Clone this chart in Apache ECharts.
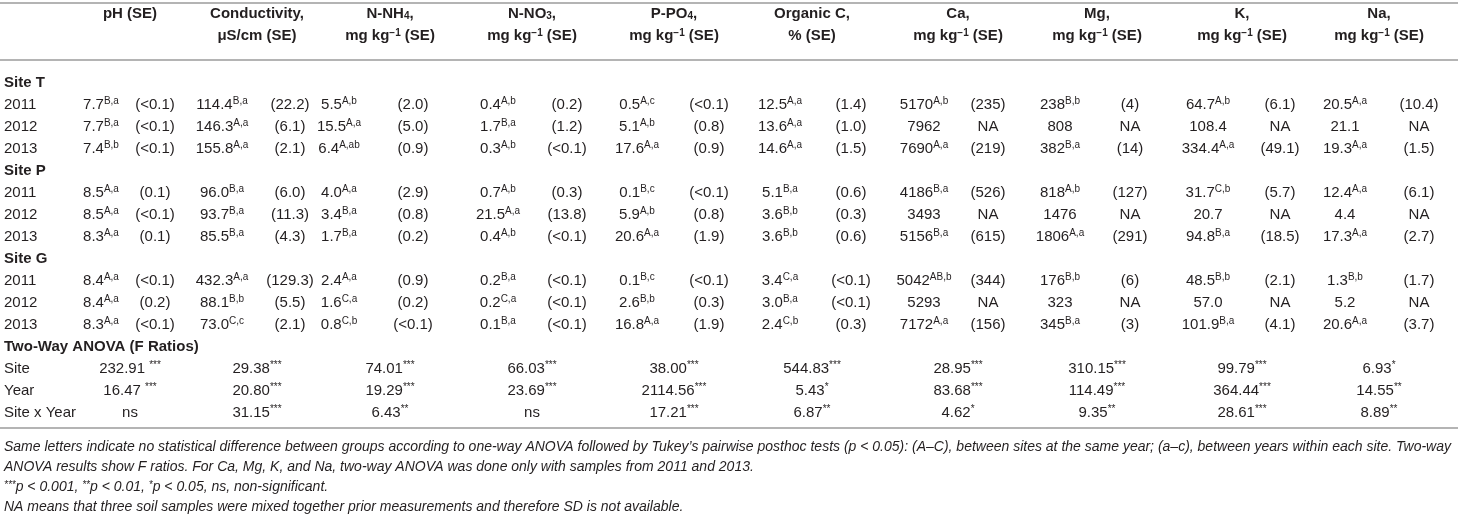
<!DOCTYPE html>
<html>
<head>
<meta charset="utf-8">
<script src="https://cdn.jsdelivr.net/npm/echarts@6/dist/echarts.min.js"></script>
<style>
html, body { margin: 0; padding: 0; background: #fff; }
#table { width: 1458px; height: 516px; }
</style>
</head>
<body>
<div id="table"></div>
<script>
// ---- data ----
var variables = ['pH', 'Conductivity', 'N-NH4', 'N-NO3', 'P-PO4', 'Organic C', 'Ca', 'Mg', 'K', 'Na'];
var rowLabels = ['Site T', '2011', '2012', '2013', 'Site P', '2011', '2012', '2013',
    'Site G', '2011', '2012', '2013', 'Two-Way ANOVA (F Ratios)', 'Site', 'Year', 'Site x Year'];
var boldRows = [0, 4, 8, 12];

var siteTValues = [
    ['7.7', '114.4', '5.5', '0.4', '0.5', '12.5', '5170', '238', '64.7', '20.5'],
    ['7.7', '146.3', '15.5', '1.7', '5.1', '13.6', '7962', '808', '108.4', '21.1'],
    ['7.4', '155.8', '6.4', '0.3', '17.6', '14.6', '7690', '382', '334.4', '19.3']
];
var siteTLetters = [
    ['B,a', 'B,a', 'A,b', 'A,b', 'A,c', 'A,a', 'A,b', 'B,b', 'A,b', 'A,a'],
    ['B,a', 'A,a', 'A,a', 'B,a', 'A,b', 'A,a', '', '', '', ''],
    ['B,b', 'A,a', 'A,ab', 'A,b', 'A,a', 'A,a', 'A,a', 'B,a', 'A,a', 'A,a']
];
var siteTSE = [
    ['<0.1', '22.2', '2.0', '0.2', '<0.1', '1.4', '235', '4', '6.1', '10.4'],
    ['<0.1', '6.1', '5.0', '1.2', '0.8', '1.0', 'NA', 'NA', 'NA', 'NA'],
    ['<0.1', '2.1', '0.9', '<0.1', '0.9', '1.5', '219', '14', '49.1', '1.5']
];

var sitePValues = [
    ['8.5', '96.0', '4.0', '0.7', '0.1', '5.1', '4186', '818', '31.7', '12.4'],
    ['8.5', '93.7', '3.4', '21.5', '5.9', '3.6', '3493', '1476', '20.7', '4.4'],
    ['8.3', '85.5', '1.7', '0.4', '20.6', '3.6', '5156', '1806', '94.8', '17.3']
];
var sitePLetters = [
    ['A,a', 'B,a', 'A,a', 'A,b', 'B,c', 'B,a', 'B,a', 'A,b', 'C,b', 'A,a'],
    ['A,a', 'B,a', 'B,a', 'A,a', 'A,b', 'B,b', '', '', '', ''],
    ['A,a', 'B,a', 'B,a', 'A,b', 'A,a', 'B,b', 'B,a', 'A,a', 'B,a', 'A,a']
];
var sitePSE = [
    ['0.1', '6.0', '2.9', '0.3', '<0.1', '0.6', '526', '127', '5.7', '6.1'],
    ['<0.1', '11.3', '0.8', '13.8', '0.8', '0.3', 'NA', 'NA', 'NA', 'NA'],
    ['0.1', '4.3', '0.2', '<0.1', '1.9', '0.6', '615', '291', '18.5', '2.7']
];

var siteGValues = [
    ['8.4', '432.3', '2.4', '0.2', '0.1', '3.4', '5042', '176', '48.5', '1.3'],
    ['8.4', '88.1', '1.6', '0.2', '2.6', '3.0', '5293', '323', '57.0', '5.2'],
    ['8.3', '73.0', '0.8', '0.1', '16.8', '2.4', '7172', '345', '101.9', '20.6']
];
var siteGLetters = [
    ['A,a', 'A,a', 'A,a', 'B,a', 'B,c', 'C,a', 'AB,b', 'B,b', 'B,b', 'B,b'],
    ['A,a', 'B,b', 'C,a', 'C,a', 'B,b', 'B,a', '', '', '', ''],
    ['A,a', 'C,c', 'C,b', 'B,a', 'A,a', 'C,b', 'A,a', 'B,a', 'B,a', 'A,a']
];
var siteGSE = [
    ['<0.1', '129.3', '0.9', '<0.1', '<0.1', '<0.1', '344', '6', '2.1', '1.7'],
    ['0.2', '5.5', '0.2', '<0.1', '0.3', '<0.1', 'NA', 'NA', 'NA', 'NA'],
    ['<0.1', '2.1', '<0.1', '<0.1', '1.9', '0.3', '156', '3', '4.1', '3.7']
];

var anovaSite = ['232.91 ', '29.38', '74.01', '66.03', '38.00', '544.83', '28.95', '310.15', '99.79', '6.93'];
var anovaSiteStars = ['***', '***', '***', '***', '***', '***', '***', '***', '***', '*'];
var anovaYear = ['16.47 ', '20.80', '19.29', '23.69', '2114.56', '5.43', '83.68', '114.49', '364.44', '14.55'];
var anovaYearStars = ['***', '***', '***', '***', '***', '*', '***', '***', '***', '**'];
var anovaSiteYear = ['ns', '31.15', '6.43', 'ns', '17.21', '6.87', '4.62', '9.35', '28.61', '8.89'];
var anovaSiteYearStars = ['', '***', '**', '', '***', '**', '*', '**', '***', '**'];

// ---- layout ----
var W = 1458;
var rowH = 22;
var gridTop = 72;
var valueX = [101, 222, 339, 498, 637, 780, 924, 1060, 1208, 1345];
var seX = [155, 290, 413, 567, 709, 851, 988, 1130, 1280, 1419];
var headX = [130, 257, 390, 532, 674, 812, 958, 1097, 1242, 1379];
var textColor = '#231f20';
var ruleColor = '#b4b4b4';
var fontFamily = '"Liberation Sans", Arial, Helvetica, sans-serif';
var fs = 15;

var chart = echarts.init(document.getElementById('table'));

var cells = [];
function addSite(firstRow, vals, letters, ses) {
    for (var y = 0; y < 3; y++) {
        for (var i = 0; i < variables.length; i++) {
            cells.push({ x: valueX[i], row: firstRow + y, text: vals[y][i], sup: letters[y][i] });
            var se = ses[y][i];
            cells.push({ x: seX[i], row: firstRow + y, text: se === 'NA' ? 'NA' : '(' + se + ')', sup: '' });
        }
    }
}
function addAnova(row, vals, stars) {
    for (var i = 0; i < variables.length; i++) {
        cells.push({ x: headX[i], row: row, text: vals[i], sup: stars[i] });
    }
}
addSite(1, siteTValues, siteTLetters, siteTSE);
addSite(5, sitePValues, sitePLetters, sitePSE);
addSite(9, siteGValues, siteGLetters, siteGSE);
addAnova(13, anovaSite, anovaSiteStars);
addAnova(14, anovaYear, anovaYearStars);
addAnova(15, anovaSiteYear, anovaSiteYearStars);

var rowKeys = rowLabels.map(function (l, i) { return 'r' + i; });

function richText(c) {
    var t = '{v|' + c.text + '}';
    if (c.sup) t += '{s|' + c.sup + '}';
    return t;
}

// header
var headLine1 = ['pH (SE)', 'Conductivity,', 'N-NH{sub|4},', 'N-NO{sub|3},', 'P-PO{sub|4},', 'Organic C,', 'Ca,', 'Mg,', 'K,', 'Na,'];
var headLine2 = ['', '\u03bcS/cm (SE)', 'mg kg{sup|\u22121} (SE)', 'mg kg{sup|\u22121} (SE)', 'mg kg{sup|\u22121} (SE)',
    '% (SE)', 'mg kg{sup|\u22121} (SE)', 'mg kg{sup|\u22121} (SE)', 'mg kg{sup|\u22121} (SE)', 'mg kg{sup|\u22121} (SE)'];

var headRich = {
    sub: { fontSize: 10, fontWeight: 'bold', fontFamily: fontFamily, fill: textColor, verticalAlign: 'bottom', lineHeight: 12 },
    sup: { fontSize: 10, fontWeight: 'bold', fontFamily: fontFamily, fill: textColor, verticalAlign: 'top', lineHeight: 10 }
};

var graphics = [];
function rule(y) {
    graphics.push({ type: 'line', shape: { x1: 0, y1: y, x2: W, y2: y },
        style: { stroke: ruleColor, lineWidth: 2 }, silent: true });
}
rule(3);
rule(60);
rule(428);

for (var h = 0; h < variables.length; h++) {
    [headLine1[h], headLine2[h]].forEach(function (txt, k) {
        if (!txt) return;
        graphics.push({
            type: 'text', x: headX[h], y: k === 0 ? 14 : 36, silent: true,
            style: {
                text: txt, fontSize: fs, fontWeight: 'bold', fontFamily: fontFamily, fill: textColor,
                align: 'center', verticalAlign: 'middle', rich: headRich
            }
        });
    });
}

var notes = [
    'Same letters indicate no statistical difference between groups according to one-way ANOVA followed by Tukey\u2019s pairwise posthoc tests (p < 0.05): (A\u2013C), between sites at the same year; (a\u2013c), between years within each site. Two-way',
    'ANOVA results show F ratios. For Ca, Mg, K, and Na, two-way ANOVA was done only with samples from 2011 and 2013.',
    '{s|***}p < 0.001, {s|**}p < 0.01, {s|*}p < 0.05, ns, non-significant.',
    'NA means that three soil samples were mixed together prior measurements and therefore SD is not available.'
];
var noteY = [447, 467, 487, 507];
notes.forEach(function (n, i) {
    graphics.push({
        type: 'text', x: 4, y: noteY[i], silent: true,
        style: {
            text: n, fontSize: 14, fontStyle: 'italic', fontFamily: fontFamily, fill: textColor,
            align: 'left', verticalAlign: 'middle',
            rich: { s: { fontSize: 10, fontStyle: 'italic', fontFamily: fontFamily, fill: textColor, verticalAlign: 'top', lineHeight: 10 } }
        }
    });
});

var option = {
    animation: false,
    grid: { left: 0, right: 0, top: gridTop, height: rowH * rowLabels.length, containLabel: false },
    xAxis: { type: 'value', min: 0, max: W, show: false },
    yAxis: {
        type: 'category',
        data: rowKeys,
        inverse: true,
        axisLine: { show: false },
        axisTick: { show: false },
        splitLine: { show: false },
        axisLabel: {
            inside: true,
            margin: 4,
            interval: 0,
            formatter: function (v, idx) {
                return boldRows.indexOf(idx) >= 0 ? '{b|' + rowLabels[idx] + '}' : '{n|' + rowLabels[idx] + '}';
            },
            rich: {
                b: { fontSize: fs, fontWeight: 'bold', fontFamily: fontFamily, color: textColor },
                n: { fontSize: fs, fontFamily: fontFamily, color: textColor }
            }
        }
    },
    series: [{
        type: 'scatter',
        symbolSize: 1,
        silent: true,
        itemStyle: { color: 'rgba(0,0,0,0)' },
        data: cells.map(function (c) { return [c.x, c.row]; }),
        labelLayout: { hideOverlap: false },
        label: {
            show: true,
            position: 'inside',
            opacity: 1,
            formatter: function (p) { return richText(cells[p.dataIndex]); },
            rich: {
                v: { fontSize: fs, fontFamily: fontFamily, color: textColor, lineHeight: 18 },
                s: { fontSize: 10, fontFamily: fontFamily, color: textColor, verticalAlign: 'top', lineHeight: 10 }
            }
        },
        emphasis: { disabled: true }
    }],
    graphic: graphics
};

chart.setOption(option);
</script>
</body>
</html>
